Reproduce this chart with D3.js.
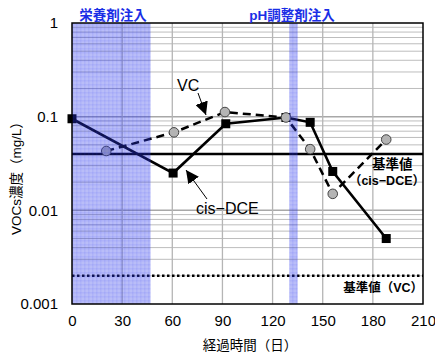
<!DOCTYPE html>
<html><head><meta charset="utf-8">
<script src="https://cdn.jsdelivr.net/npm/d3@7"></script>
<style>
html,body{margin:0;padding:0;background:#fff;}
svg{display:block;}
text{font-family:"Liberation Sans",Arial,"Noto Sans CJK JP",sans-serif;}
</style></head>
<body>
<svg id="chart" width="435" height="356"></svg>
<script>
// Elapsed days and concentrations (mg/L)
const cisDays = [0, 60.5, 92, 128, 142.5, 156, 188];
const cisValues = [0.095, 0.025, 0.084, 0.098, 0.087, 0.026, 0.005];
const vcDays = [20.5, 61, 91.5, 128, 142.5, 156, 188];
const vcValues = [0.043, 0.068, 0.112, 0.098, 0.045, 0.015, 0.057];
const stdCis = 0.04;   // 基準値 cis-DCE
const stdVC = 0.002;   // 基準値 VC
const nutrientPeriod = [0, 47];
const phPeriod = [130, 135];
const xTicks = [0, 30, 60, 90, 120, 150, 180, 210];
const yTicks = [0.001, 0.01, 0.1, 1];
const yTickLabels = ["0.001", "0.01", "0.1", "1"];

const svg = d3.select("#chart");
const L = 72, R = 423, T = 23, B = 304;
const x = d3.scaleLinear().domain([0, 210]).range([L, R]);
const y = d3.scaleLog().domain([0.001, 1]).range([B, T]);

// checkered blue fill for the injection periods
const defs = svg.append("defs");
const pat = defs.append("pattern").attr("id", "inj").attr("patternUnits", "userSpaceOnUse")
  .attr("width", 4).attr("height", 4);
pat.append("rect").attr("width", 4).attr("height", 4).attr("fill", "#2b37ea").attr("fill-opacity", 0.33);
pat.append("rect").attr("width", 4).attr("height", 1.5).attr("fill", "#2b37ea").attr("fill-opacity", 0.08);
pat.append("rect").attr("width", 1.5).attr("height", 4).attr("fill", "#2b37ea").attr("fill-opacity", 0.08);

// grid
const g = svg.append("g");
const minor = [];
[0.001, 0.01, 0.1].forEach(d => { for (let k = 2; k <= 9; k++) minor.push(d * k); });
g.selectAll("line.hm").data(minor).join("line")
  .attr("x1", L).attr("x2", R).attr("y1", d => y(d)).attr("y2", d => y(d))
  .attr("stroke", "#bdbdbd").attr("stroke-width", 1);
g.selectAll("line.hM").data([0.01, 0.1]).join("line")
  .attr("x1", L).attr("x2", R).attr("y1", d => y(d)).attr("y2", d => y(d))
  .attr("stroke", "#a8a8a8").attr("stroke-width", 1.5);
g.selectAll("line.v").data(xTicks.slice(1, -1)).join("line")
  .attr("x1", d => x(d)).attr("x2", d => x(d)).attr("y1", T).attr("y2", B)
  .attr("stroke", "#b5b5b5").attr("stroke-width", 1.3);

// standard lines
svg.append("line").attr("x1", L).attr("x2", R).attr("y1", y(stdCis)).attr("y2", y(stdCis))
  .attr("stroke", "#000").attr("stroke-width", 2.6);
svg.append("line").attr("x1", L).attr("x2", R).attr("y1", y(stdVC)).attr("y2", y(stdVC))
  .attr("stroke", "#000").attr("stroke-width", 2.6).attr("stroke-dasharray", "2.5,2.5");

// series
const line = d3.line().x(d => x(d[0])).y(d => y(d[1]));
const cis = cisDays.map((d, i) => [d, cisValues[i]]);
const vc = vcDays.map((d, i) => [d, vcValues[i]]);
svg.append("path").attr("d", line(vc)).attr("fill", "none")
  .attr("stroke", "#000").attr("stroke-width", 2.5).attr("stroke-dasharray", "8,5");
svg.append("path").attr("d", line(cis)).attr("fill", "none")
  .attr("stroke", "#000").attr("stroke-width", 2.6);
svg.selectAll("rect.cis").data(cis).join("rect")
  .attr("x", d => x(d[0]) - 4.5).attr("y", d => y(d[1]) - 4.5)
  .attr("width", 9).attr("height", 9).attr("fill", "#000");
svg.selectAll("circle.vc").data(vc).join("circle")
  .attr("cx", d => x(d[0])).attr("cy", d => y(d[1])).attr("r", 4.8)
  .attr("fill", "#b4b4b4").attr("stroke", "#444").attr("stroke-width", 1);

// injection periods
[nutrientPeriod, phPeriod].forEach(p => {
  svg.append("rect").attr("x", x(p[0])).attr("y", T).attr("width", x(p[1]) - x(p[0]))
    .attr("height", B - T).attr("fill", "url(#inj)");
});

// frame
svg.append("rect").attr("x", L).attr("y", T).attr("width", R - L).attr("height", B - T)
  .attr("fill", "none").attr("stroke", "#000").attr("stroke-width", 1.5);

// axes
const xAxis = svg.append("g").attr("transform", `translate(0,${B})`)
  .call(d3.axisBottom(x).tickValues(xTicks).tickSize(0).tickPadding(11));
xAxis.select(".domain").remove();
xAxis.selectAll("text").attr("font-size", 15).attr("fill", "#000");
const yAxis = svg.append("g").attr("transform", `translate(${L},0)`)
  .call(d3.axisLeft(y).tickValues(yTicks).tickFormat((d, i) => yTickLabels[i]).tickSize(0).tickPadding(14));
yAxis.select(".domain").remove();
yAxis.selectAll("text").attr("font-size", 15).attr("fill", "#000");

// axis titles
svg.append("text").attr("x", 250).attr("y", 350).attr("text-anchor", "middle")
  .attr("font-size", 13.5).text("経過時間（日）");
svg.append("text").attr("transform", "translate(21,175) rotate(-90)").attr("text-anchor", "middle")
  .attr("font-size", 13.5).text("VOCs濃度（mg/L）");

// period labels
svg.append("text").attr("x", 113).attr("y", 20).attr("text-anchor", "middle")
  .attr("font-size", 13.5).attr("font-weight", "bold").attr("fill", "#1a2ee6").text("栄養剤注入");
svg.append("text").attr("x", 292).attr("y", 20).attr("text-anchor", "middle")
  .attr("font-size", 13.5).attr("font-weight", "bold").attr("fill", "#1a2ee6").text("pH調整剤注入");

// arrows
defs.append("marker").attr("id", "ah").attr("viewBox", "0 0 10 10").attr("refX", 10).attr("refY", 5)
  .attr("markerWidth", 13).attr("markerHeight", 13).attr("markerUnits", "userSpaceOnUse").attr("orient", "auto")
  .append("path").attr("d", "M0,0L10,5L0,10Z").attr("fill", "#000");
svg.append("line").attr("x1", 198).attr("y1", 93).attr("x2", 206).attr("y2", 115)
  .attr("stroke", "#000").attr("stroke-width", 1).attr("marker-end", "url(#ah)");
svg.append("line").attr("x1", 207).attr("y1", 199).attr("x2", 186).attr("y2", 170)
  .attr("stroke", "#000").attr("stroke-width", 1).attr("marker-end", "url(#ah)");

// series labels
svg.append("text").attr("x", 177).attr("y", 91).attr("font-size", 16).text("VC");
svg.append("text").attr("x", 196).attr("y", 214).attr("font-size", 16).text("cis−DCE");

// standard value labels
svg.append("text").attr("x", 372).attr("y", 169).attr("font-size", 13.5).attr("font-weight", "bold").text("基準値");
svg.append("text").attr("x", 425).attr("y", 185).attr("text-anchor", "end")
  .attr("font-size", 12.5).attr("font-weight", "bold").text("（cis−DCE）");
svg.append("text").attr("x", 423).attr("y", 292).attr("text-anchor", "end")
  .attr("font-size", 12.5).attr("font-weight", "bold").text("基準値（VC）");
</script>
</body></html>
